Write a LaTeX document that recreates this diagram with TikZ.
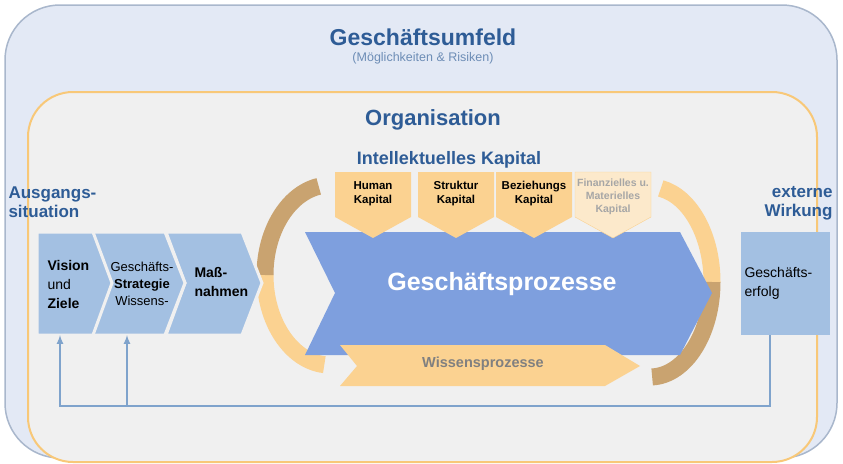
\documentclass[tikz,border=0pt]{standalone}
\usepackage{fontspec}
\setmainfont{Liberation Sans}
\usetikzlibrary{positioning}
\definecolor{umfeld}{HTML}{E3E9F5}
\definecolor{umrand}{HTML}{A9B7CC}
\definecolor{orgfill}{HTML}{F0F0F0}
\definecolor{orgrand}{HTML}{F8C878}
\definecolor{titel}{HTML}{2E5C96}
\definecolor{schritt}{HTML}{A3C0E2}
\definecolor{prozess}{HTML}{7E9FDE}
\definecolor{kapital}{HTML}{FBD291}
\definecolor{kapitalhell}{HTML}{FCE9CB}
\definecolor{tan}{HTML}{C9A370}
\definecolor{linie}{HTML}{7FA3CC}
\tikzset{
  titeltext/.style={font=\bfseries, text=titel},
  kleintext/.style={font=\fontsize{11.5}{14}\selectfont\bfseries, align=center},
  schritttext/.style={font=\fontsize{14}{19}\selectfont, align=left},
  schrittform/.style={fill=schritt, draw=orgfill, line width=3pt, line join=miter},
  rueck/.style={draw=linie, line width=2pt, -latex}
}
\begin{document}
\begin{tikzpicture}[x=1pt,y=-1pt]
  \useasboundingbox (0,0) rectangle (843,463);
  % Umfeld und Organisation
  \draw[umrand, fill=umfeld, line width=1.5pt, rounded corners=55] (5,5) rectangle (837,458);
  \draw[orgrand, fill=orgfill, line width=2pt, rounded corners=45] (28,92) rectangle (817,462);
  \node[titeltext, font=\fontsize{23}{26}\selectfont\bfseries] (umfeld) at (423,37) {Geschäftsumfeld};
  \node[text=titel!70, font=\fontsize{12.5}{14}\selectfont] (chancen) at (423,58) {(Möglichkeiten \& Risiken)};
  \node[titeltext, font=\fontsize{22}{25}\selectfont\bfseries] (org) at (433,120) {Organisation};
  \node[titeltext, font=\fontsize{18}{20}\selectfont\bfseries] (ikap) at (449,160) {Intellektuelles Kapital};
  \node[titeltext, font=\fontsize{17}{19}\selectfont\bfseries, align=left, anchor=west] (aus) at (5,202) {Ausgangs-\\situation};
  \node[titeltext, font=\fontsize{17}{19}\selectfont\bfseries, align=right, anchor=east] (ext) at (836,203) {externe\\Wirkung};

  % Kreisbogen links und rechts
  \draw[kapital, line width=17pt] (330,275) ++(180:65 and 90) arc (180:95:65 and 90);
  \draw[tan, line width=17pt] (330,275) ++(260:65 and 90) arc (260:180:65 and 90);
  \draw[kapital, line width=17pt] (650,282) ++(-80:62 and 95) arc (-80:0:62 and 95);
  \draw[tan, line width=17pt] (650,282) ++(0:62 and 95) arc (0:88:62 and 95);

  % Geschaeftsprozesse
  \fill[prozess] (305,232) -- (680,232) -- (712,293) -- (680,355) -- (305,355) -- (335,293) -- cycle;
  \node[text=white, font=\fontsize{25}{28}\selectfont\bfseries] (gp) at (502,284) {Geschäftsprozesse};
  \fill[kapital] (340,345) -- (605,345) -- (640,366) -- (605,386) -- (340,386) -- (357,366) -- cycle;
  \node[text=black!50, font=\fontsize{14.5}{17}\selectfont\bfseries] (wp) at (483,364) {Wissensprozesse};

  % Kapitalarten
  \foreach \x/\nm/\txt in {335/human/{Human\\Kapital}, 418/struktur/{Struktur\\Kapital}, 496/beziehung/{Beziehungs\\Kapital}}{
    \fill[kapital] (\x,172) -- (\x+76,172) -- (\x+76,217) -- (\x+38,238) -- (\x,217) -- cycle;
    \node[kleintext] (\nm) at (\x+38,194) {\txt};
  }
  \filldraw[fill=kapitalhell, draw=kapital] (575,172) -- (651,172) -- (651,217) -- (613,238) -- (575,217) -- cycle;
  \node[kleintext, text=black!35, font=\fontsize{10.5}{13}\selectfont\bfseries] (finanz) at (613,197) {Finanzielles u.\\Materielles\\Kapital};

  % Schritte links
  \draw[schrittform] (166,232) -- (242,232) -- (262,283) -- (242,335) -- (166,335) -- (185,283) -- cycle;
  \draw[schrittform] (91,232) -- (165,232) -- (185,283) -- (165,335) -- (91,335) -- (110,283) -- cycle;
  \draw[schrittform] (37,232) -- (93,232) -- (112,283) -- (93,335) -- (37,335) -- cycle;
  \node[schritttext, anchor=west] (vision) at (44,284) {\textbf{Vision}\\und\\\textbf{Ziele}};
  \node[schritttext, align=center, font=\fontsize{13}{17}\selectfont] (strategie) at (142,284) {Geschäfts-\\\textbf{Strategie}\\Wissens-};
  \node[schritttext, anchor=west] (mass) at (191,282) {\textbf{Maß-}\\\textbf{nahmen}};

  % Geschaeftserfolg
  \fill[schritt] (741,232) rectangle (830,335);
  \node[schritttext, anchor=west] (erfolg) at (741,283) {Geschäfts-\\erfolg};
  \coordinate (erfolgunten) at (770,335);
  \coordinate (visionunten) at (60,335);
  \coordinate (stratunten) at (127,335);

  % Rueckkopplung
  \draw[rueck] (erfolgunten) -- (770,406) -- (60,406) -- (visionunten);
  \draw[rueck] (127,406) -- (stratunten);
\end{tikzpicture}
\end{document}
